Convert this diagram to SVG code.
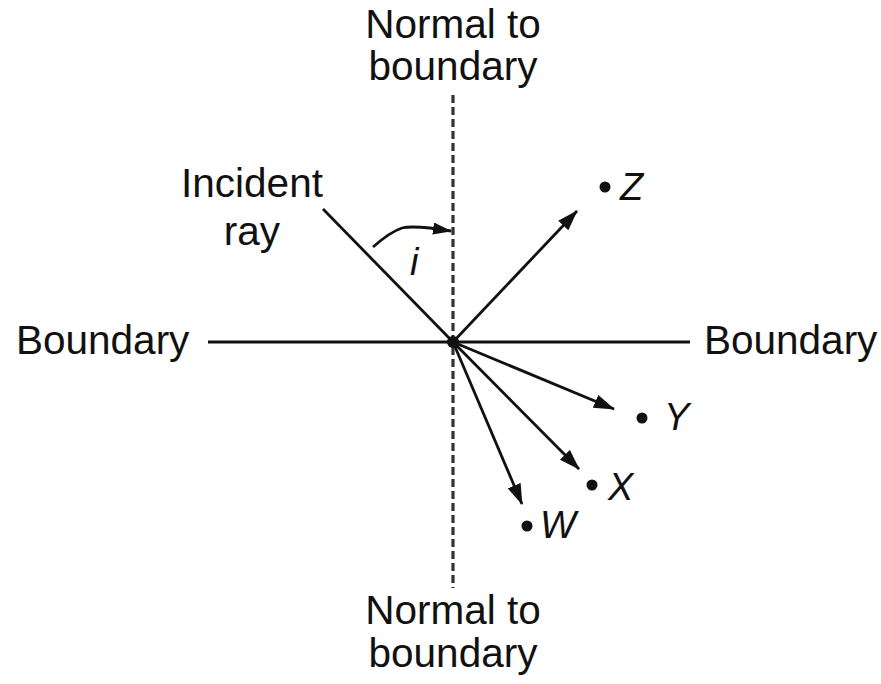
<svg xmlns="http://www.w3.org/2000/svg" width="881" height="684" viewBox="0 0 881 684">
<style>
.t{font-family:"Liberation Sans",Arial,sans-serif;font-size:40.5px;fill:#111}
.l{font-family:"Liberation Sans",Arial,sans-serif;font-size:38px;font-style:italic;fill:#111}
.ln{stroke:#111;stroke-width:2.8;fill:none}
.ar{stroke:#111;stroke-width:2.8;fill:none;marker-end:url(#ah)}
.dot{fill:#111}
</style>
<defs>
<marker id="ah" markerUnits="userSpaceOnUse" markerWidth="24" markerHeight="16" refX="20" refY="7" orient="auto">
<path d="M0,0 L21,7 L0,14 Z" fill="#111"/>
</marker>
<marker id="ah2" markerUnits="userSpaceOnUse" markerWidth="22" markerHeight="14" refX="18" refY="6" orient="auto">
<path d="M0,0 L19,6 L0,12 Z" fill="#111"/>
</marker>
</defs>
<g id="normal-top-label"><text class="t" x="453" y="38" text-anchor="middle">Normal to</text><text class="t" x="453" y="80" text-anchor="middle">boundary</text></g>
<g id="normal-bottom-label"><text class="t" x="453" y="624" text-anchor="middle">Normal to</text><text class="t" x="453" y="667" text-anchor="middle">boundary</text></g>
<g id="boundary-left"><text class="t" x="16" y="354">Boundary</text></g>
<g id="boundary-right"><text class="t" x="704" y="354">Boundary</text></g>
<g id="incident-label"><text class="t" x="252" y="197" text-anchor="middle">Incident</text><text class="t" x="252" y="245" text-anchor="middle">ray</text></g>
<g id="angle-label"><text class="l" x="410" y="275">i</text></g>
<g id="Z"><circle class="dot" cx="605" cy="187" r="5.5"/><text class="l" x="620" y="200">Z</text></g>
<g id="Y"><circle class="dot" cx="642" cy="418" r="5.5"/><text class="l" x="664" y="430">Y</text></g>
<g id="X"><circle class="dot" cx="592" cy="485" r="5.5"/><text class="l" x="608" y="500">X</text></g>
<g id="W"><circle class="dot" cx="527" cy="526" r="5.5"/><text class="l" x="540" y="538">W</text></g>
<g id="connectors">
<line x1="453" y1="95" x2="453" y2="588" stroke="#333" stroke-width="3.2" stroke-dasharray="8,4"/>
<line class="ln" x1="208" y1="342" x2="690" y2="342"/>
<line class="ln" x1="323" y1="209" x2="453" y2="342"/>
<line class="ar" x1="453" y1="342" x2="577" y2="211"/>
<line class="ar" x1="453" y1="342" x2="614" y2="409"/>
<line class="ar" x1="453" y1="342" x2="579" y2="469"/>
<line class="ar" x1="453" y1="342" x2="522" y2="504"/>
<path d="M373,247 Q390,232 402,228 Q410,226 430,228 L451,231" stroke="#111" stroke-width="2.8" fill="none" marker-end="url(#ah2)"/>
<circle class="dot" cx="453" cy="342" r="6"/>
</g>
</svg>
